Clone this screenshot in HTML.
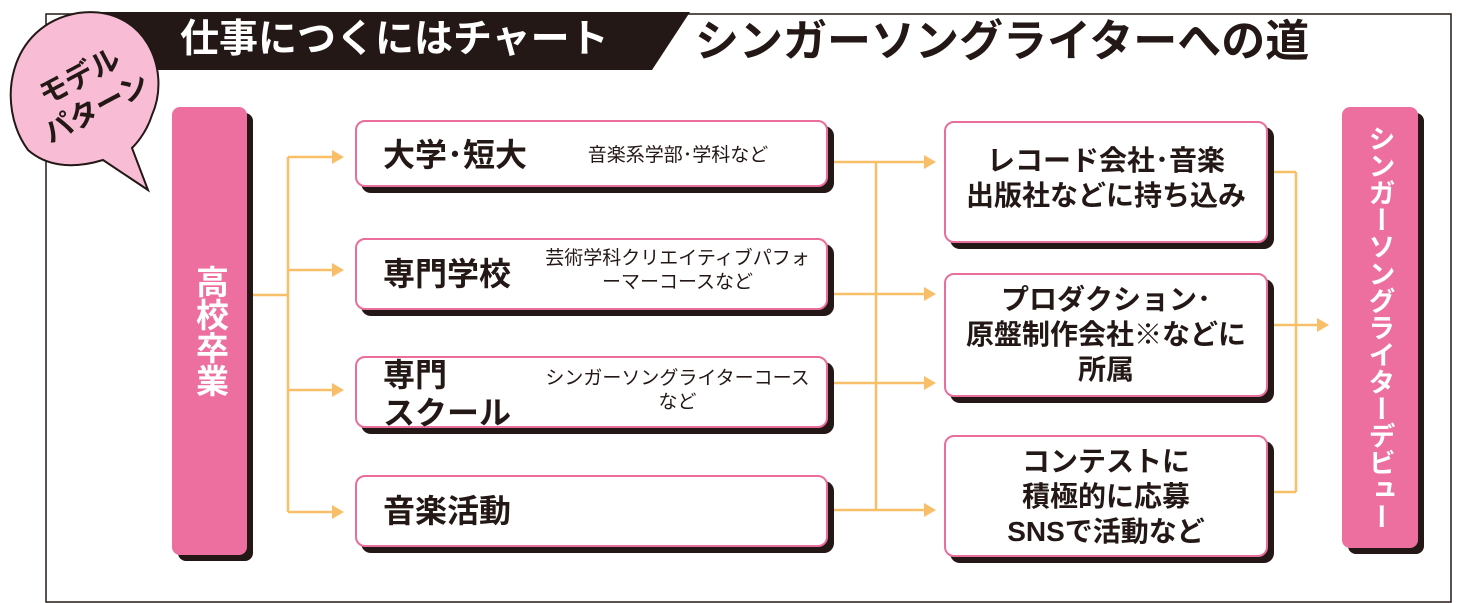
<!DOCTYPE html>
<html><head><meta charset="utf-8"><style>
*{margin:0;padding:0;box-sizing:border-box}
body{width:1459px;height:603px;background:#fff;position:relative;overflow:hidden;font-family:"Liberation Sans","Noto Sans CJK JP",sans-serif;color:#231815}
.abs{position:absolute}
.box{position:absolute;background:#fff;border:2px solid #e96e9b;border-radius:10px;box-shadow:6px 6px 0 #231815}
.bar{position:absolute;background:#ec6f9f;border-radius:8px;box-shadow:6px 6px 0 #231815;color:#fff;font-weight:bold;font-size:33px;writing-mode:vertical-rl;display:flex;align-items:center;justify-content:center}
.big{position:absolute;font-weight:bold;font-size:32px;line-height:38px;white-space:nowrap}
.sm{position:absolute;font-size:19px;line-height:24px;text-align:center;white-space:nowrap}
.rt{position:absolute;left:0;right:0;text-align:center;font-weight:bold;font-size:28px;line-height:35px;white-space:nowrap}
</style></head><body>
<svg class="abs" style="left:0;top:0" width="1459" height="603">
<rect x="46" y="14" width="1405" height="588" fill="none" stroke="#231815" stroke-width="1.5"/>
<polygon points="95,12 690,12 652,70 95,70" fill="#231815"/>
<path d="M28,150 C-5,105 8,25 78,13 C145,4 172,70 152,115 C148,128 140,140 132,148 L148,190 L103,160 C70,170 45,165 28,150 Z" fill="#f8bdd5" stroke="#231815" stroke-width="2"/>
<g stroke="#f9bf68" stroke-width="2.5" fill="none">
<path d="M247,295 H288 M288,157 V512 M288,157 H333 M288,270 H333 M288,390 H333 M288,512 H333"/>
<path d="M828,162 H876 M828,294 H876 M828,383 H876 M828,510 H876 M876,162 V510 M876,162 H925 M876,294 H925 M876,383 H925 M876,510 H925"/>
<path d="M1268,172 H1296 M1268,325 H1296 M1268,492 H1296 M1296,172 V492 M1296,325 H1318"/>
</g>
<g fill="#f9bf68">
<polygon points="332,150 344,157 332,164"/><polygon points="332,263 344,270 332,277"/><polygon points="332,383 344,390 332,397"/><polygon points="332,505 344,512 332,519"/>
<polygon points="924,155 936,162 924,169"/><polygon points="924,287 936,294 924,301"/><polygon points="924,376 936,383 924,390"/><polygon points="924,503 936,510 924,517"/>
<polygon points="1317,318 1329,325 1317,332"/>
</g>
</svg>
<div class="abs" style="left:180px;top:17px;color:#fff;font-weight:bold;font-size:39px;line-height:46px;white-space:nowrap">仕事につくにはチャート</div>
<div class="abs" style="left:695px;top:17px;font-weight:bold;font-size:44px;line-height:50px;white-space:nowrap">シンガーソングライターへの道</div>
<div class="abs" style="font-weight:bold;font-size:29px;line-height:36px;transform:rotate(-28deg);transform-origin:left top;text-align:center;width:130px;left:14px;top:92px;white-space:nowrap">モデル<br>パターン</div>

<div class="bar" style="left:172px;top:107px;width:75px;height:448px">高校卒業</div>
<div class="bar" style="left:1342px;top:107px;width:76px;height:441px;font-size:27px">シンガーソングライターデビュー</div>

<div class="box" style="left:355px;top:120px;width:473px;height:67px"></div>
<div class="big" style="left:383px;top:136px">大学･短大</div>
<div class="sm" style="left:568px;top:144px;width:220px">音楽系学部･学科など</div>

<div class="box" style="left:355px;top:238px;width:473px;height:72px"></div>
<div class="big" style="left:383px;top:255px">専門学校</div>
<div class="sm" style="left:540px;top:247px;width:275px">芸術学科クリエイティブパフォ<br>ーマーコースなど</div>

<div class="box" style="left:355px;top:356px;width:473px;height:72px"></div>
<div class="big" style="left:383px;top:356px">専門<br>スクール</div>
<div class="sm" style="left:530px;top:367px;width:295px">シンガーソングライターコース<br>など</div>

<div class="box" style="left:944px;top:121px;width:324px;height:122px"><div class="rt" style="top:20px">レコード会社･音楽<br>出版社などに持ち込み</div></div>
<div class="box" style="left:944px;top:273px;width:324px;height:124px"><div class="rt" style="top:7px">プロダクション･<br>原盤制作会社※などに<br>所属</div></div>
<div class="box" style="left:944px;top:435px;width:324px;height:122px"><div class="rt" style="top:7px">コンテストに<br>積極的に応募<br>SNSで活動など</div></div>
<div class="box" style="left:355px;top:475px;width:473px;height:72px"></div>
<div class="big" style="left:383px;top:492px">音楽活動</div>
</body></html>
